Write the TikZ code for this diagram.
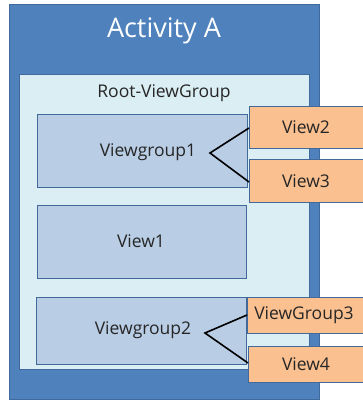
\documentclass[tikz,border=0pt]{standalone}
\usepackage{fontspec}
\setmainfont{Open Sans}
\definecolor{outerblue}{HTML}{4F81BD}
\definecolor{outerborder}{HTML}{3F6A9E}
\definecolor{rootfill}{HTML}{DBEEF4}
\definecolor{boxfill}{HTML}{B9CDE5}
\definecolor{boxborder}{HTML}{41699A}
\definecolor{orangefill}{HTML}{FAC090}
\begin{document}
\begin{tikzpicture}[x=1pt,y=-1pt,
  outerbox/.style={fill=outerblue,draw=outerborder,line width=0.8pt},
  rootbox/.style={fill=rootfill,draw=outerborder,line width=0.6pt},
  vbox/.style={fill=boxfill,draw=boxborder,line width=0.8pt},
  obox/.style={fill=orangefill,draw=boxborder,line width=0.8pt},
  lbl/.style={font=\fontsize{17.5}{20}\selectfont,text=black!85},
  conn/.style={draw=black,line width=1.6pt}]
\useasboundingbox (0,0) rectangle (362,402);
\fill[white] (0,0) rectangle (362,402);
\draw[outerbox] (9,4) rectangle (319,399);
\node[font=\fontsize{27}{30}\selectfont,text=white] (act) at (164,31) {Activity A};
\draw[rootbox] (19,74) rectangle (309,369);
\node[lbl] (root) at (164,93) {Root-ViewGroup};
\draw[vbox] (37,114) rectangle (247,187);
\node[lbl] (vg1) at (148,152) {Viewgroup1};
\draw[vbox] (37,205) rectangle (246,278);
\node[lbl] (v1) at (141,241) {View1};
\draw[vbox] (36,297) rectangle (246,364);
\node[lbl] (vg2) at (143,330) {Viewgroup2};
\draw[obox] (249,106) rectangle (366,148);
\node[lbl] (v2) at (306,127) {View2};
\draw[obox] (249,159) rectangle (366,202);
\node[lbl] (v3) at (306,181) {View3};
\draw[obox] (247,297) rectangle (366,333);
\node[lbl] (vg3) at (304,315) {ViewGroup3};
\draw[obox] (248,346) rectangle (366,382);
\node[lbl] (v4) at (306,364) {View4};
\coordinate (a1) at (249,128);
\coordinate (a0) at (210,153);
\coordinate (a2) at (249,182);
\coordinate (b1) at (247,315);
\coordinate (b0) at (205,333);
\coordinate (b2) at (248,363);
\draw[conn] (a1) -- (a0) -- (a2);
\draw[conn] (b1) -- (b0) -- (b2);
\end{tikzpicture}
\end{document}
